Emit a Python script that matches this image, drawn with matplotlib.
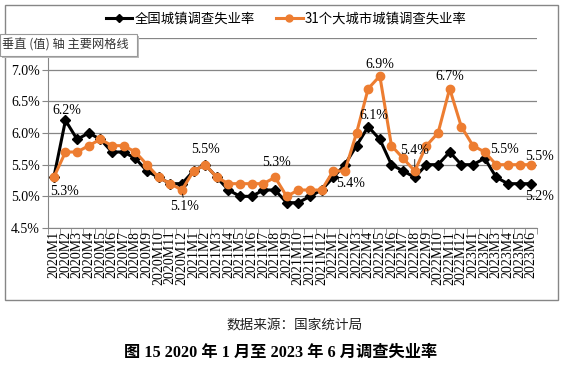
import matplotlib.pyplot as plt
from matplotlib.patches import Rectangle
from matplotlib.lines import Line2D

# Months 2020M1 .. 2023M6
months = [f"{y}M{m}" for y in (2020, 2021, 2022) for m in range(1, 13)] + \
         [f"2023M{m}" for m in range(1, 7)]

# 全国城镇调查失业率 (%)
national = [5.3, 6.2, 5.9, 6.0, 5.9, 5.7, 5.7, 5.6, 5.4, 5.3, 5.2, 5.2,
            5.4, 5.5, 5.3, 5.1, 5.0, 5.0, 5.1, 5.1, 4.9, 4.9, 5.0, 5.1,
            5.3, 5.5, 5.8, 6.1, 5.9, 5.5, 5.4, 5.3, 5.5, 5.5, 5.7, 5.5,
            5.5, 5.6, 5.3, 5.2, 5.2, 5.2]

# 31个大城市城镇调查失业率 (%)
cities = [5.3, 5.7, 5.7, 5.8, 5.9, 5.8, 5.8, 5.7, 5.5, 5.3, 5.2, 5.1,
          5.4, 5.5, 5.3, 5.2, 5.2, 5.2, 5.2, 5.3, 5.0, 5.1, 5.1, 5.1,
          5.4, 5.4, 6.0, 6.7, 6.9, 5.8, 5.6, 5.4, 5.8, 6.0, 6.7, 6.1,
          5.8, 5.7, 5.5, 5.5, 5.5, 5.5]

yticks = [4.5, 5.0, 5.5, 6.0, 6.5, 7.0, 7.5]

# data labels: (series, month index, text)
labels = [('n', 1, '6.2%'), ('n', 0, '5.3%'), ('c', 11, '5.1%'), ('n', 13, '5.5%'),
          ('c', 19, '5.3%'), ('c', 25, '5.4%'), ('n', 27, '6.1%'), ('c', 28, '6.9%'),
          ('c', 31, '5.4%'), ('c', 34, '6.7%'), ('c', 38, '5.5%'), ('c', 41, '5.5%'),
          ('n', 41, '5.2%')]
# offsets in points for each label, same order
offsets = [(1, 7), (8, -10), (2, -12), (0, 11), (1, 11), (4, -9), (4, 8), (0, 8),
           (0, 15), (0, 9), (6, 11), (6, 6), (6, -9)]
leaders = {2, 8}

black = '#000000'
orange = '#ED7D31'
grid = '#868686'
serif = ['Liberation Serif', 'Noto Sans CJK SC']
cjk = ['Noto Sans CJK SC']
W, H = 568, 371

fig = plt.figure(figsize=(5.68, 3.71), dpi=100)
ax = fig.add_axes([48 / W, 1 - 228 / H, 489 / W, 190 / H])

x = list(range(len(months)))
ax.plot(x, national, color=black, lw=2.2, marker='D', ms=5, zorder=3)
ax.plot(x, cities, color=orange, lw=2.2, marker='o', ms=6, zorder=4)

ax.set_xlim(-0.5, len(months) - 0.5)
ax.set_ylim(4.5, 7.5)
ax.set_yticks(yticks)
# the 7.5% label is hidden under the tooltip in the screenshot
ax.set_yticklabels([f"{v:.1f}%" if v < 7.5 else '' for v in yticks],
                   fontfamily=serif, fontsize=10)
ax.set_xticks(x)
ax.set_xticklabels(months, rotation=90, fontfamily=serif, fontsize=10)
ax.set_xticks([i + 0.5 for i in range(-1, len(months))], minor=True)
ax.tick_params(axis='x', which='major', length=0, pad=2)
ax.tick_params(axis='x', which='minor', length=4, color=grid)
ax.tick_params(axis='y', length=4, color=grid, pad=2)
ax.grid(axis='y', color=grid, lw=0.9)
ax.set_axisbelow(True)
for s in ('top', 'right'):
    ax.spines[s].set_visible(False)
for s in ('left', 'bottom'):
    ax.spines[s].set_color(grid)

for k, (ser, i, txt) in enumerate(labels):
    yv = national[i] if ser == 'n' else cities[i]
    arrow = dict(arrowstyle='-', color=black, lw=0.6, shrinkA=0, shrinkB=3) if k in leaders else None
    ax.annotate(txt, (i, yv), xytext=offsets[k], textcoords='offset points',
                ha='center', va='center', fontfamily=serif, fontsize=10,
                arrowprops=arrow, zorder=5)

handles = [Line2D([], [], color=black, lw=2.2, marker='D', ms=4),
           Line2D([], [], color=orange, lw=2.2, marker='o', ms=5)]
fig.legend(handles, ['全国城镇调查失业率', '31个大城市城镇调查失业率'],
           loc='center', bbox_to_anchor=(286 / W, 1 - 19 / H), ncol=2, frameon=False,
           prop={'family': cjk, 'size': 9.6},
           handlelength=2.0, handletextpad=0.15, columnspacing=1.6)

# chart frame
fig.add_artist(Rectangle((5 / W, 1 - 300 / H), 553 / W, 295 / H,
                         transform=fig.transFigure, fill=False, ec=grid, lw=1))

# hover tooltip left in the screenshot
fig.add_artist(Rectangle((2 / W, 1 - 58 / H), 137 / W, 22 / H, transform=fig.transFigure,
                         fc='#BBBBBB', ec='none', zorder=10))
fig.add_artist(Rectangle((0, 1 - 56 / H), 137 / W, 22 / H, transform=fig.transFigure,
                         fc='white', ec='#999999', lw=0.8, zorder=11))
fig.text(2 / W, 1 - 45 / H, '垂直 (值) 轴 主要网格线', ha='left', va='center',
         fontfamily=cjk, fontsize=8.8, color='#333333', zorder=12)

fig.text(295 / W, 1 - 325 / H, '数据来源：国家统计局', ha='center', va='center',
         fontfamily=cjk, fontsize=9.8, color='#222222')
fig.text(281 / W, 1 - 353 / H, '图 15 2020 年 1 月至 2023 年 6 月调查失业率',
         ha='center', va='center', fontfamily=serif, fontsize=11.7, fontweight='bold')

fig.savefig('out.png', dpi=100)
